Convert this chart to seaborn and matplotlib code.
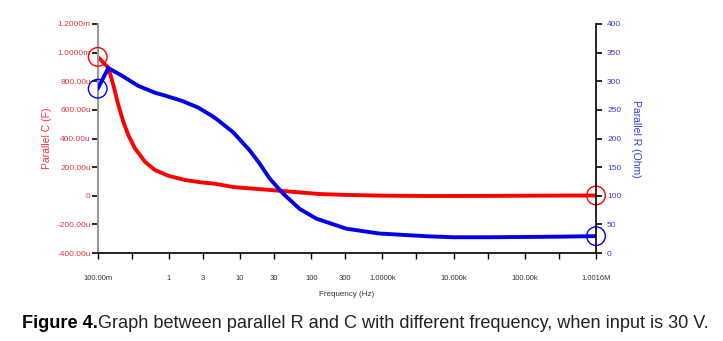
import numpy as np
import pandas as pd
import matplotlib
matplotlib.use("Agg")
import matplotlib.pyplot as plt
import seaborn as sns

# ---- data ----
freq_c = [0.1, 0.141, 0.166, 0.195, 0.229, 0.269, 0.334, 0.461, 0.636, 0.978, 1.68,
          2.88, 4.42, 7.98, 40.1, 131, 300, 910, 4600, 30000, 200000, 1.0016e6]
cap_uF = [970, 895, 774, 634, 517, 424, 331, 238, 180, 140, 110,
          93, 84, 61, 33, 12, 6, 1, -2, -1, 1, 2]

freq_r = [0.1, 0.141, 0.217, 0.371, 0.636, 0.879, 1.51, 2.58, 3.97, 4.67, 7.98, 13.7,
          18.9, 26.1, 40.1, 68.8, 118, 310, 910, 4600, 10000, 30000, 100000, 300000, 1.0016e6]
res_ohm = [287, 323, 310, 292, 280, 275, 266, 254, 240, 234, 211, 179,
           156, 130, 104, 77, 60, 42.5, 34, 29, 27.5, 27.5, 28, 28.5, 29.5]

x_ticks = [0.1, 0.3, 1, 3, 10, 30, 100, 300, 1000, 3000, 10000, 30000, 100000, 300000, 1.0016e6]
x_labels = ["100.00m", "", "1", "3", "10", "30", "100", "300", "1.0000k", "",
            "10.000k", "", "100.00k", "", "1.0016M"]
left_ticks_uF = [-400, -200, 0, 200, 400, 600, 800, 1000, 1200]
left_labels = ["-400.00u", "-200.00u", "0", "200.00u", "400.00u", "600.00u",
               "800.00u", "1.0000m", "1.2000m"]
right_ticks = [0, 50, 100, 150, 200, 250, 300, 350, 400]

df_c = pd.DataFrame({"f": freq_c, "C": np.array(cap_uF) * 1e-6})
df_r = pd.DataFrame({"f": freq_r, "R": res_ohm})

sns.set_style("white")
plt.rcParams["font.family"] = ["Liberation Sans", "DejaVu Sans"]

RED = "#ff0000"
BLUE = "#0000ee"
RED_T = "#e8343c"
BLUE_T = "#3a3ae0"

fig = plt.figure(figsize=(7.23, 3.41), dpi=100)
ax = fig.add_axes([97.7 / 723, 1 - 253 / 341, (596 - 97.7) / 723, (253 - 24) / 341])
ax2 = ax.twinx()

sns.lineplot(data=df_c, x="f", y="C", ax=ax, color=RED, lw=2.8, sort=False, legend=False)
sns.lineplot(data=df_r, x="f", y="R", ax=ax2, color=BLUE, lw=2.8, sort=False, legend=False)
for a in (ax, ax2):
    for ln in a.get_lines():
        ln.set_solid_joinstyle("round")
        ln.set_solid_capstyle("round")

# end-point circles
ends_c = df_c.iloc[[0, -1]]
ends_r = df_r.iloc[[0, -1]]
sns.scatterplot(data=ends_c, x="f", y="C", ax=ax, s=180, facecolor="none",
                edgecolor=RED, linewidth=1.0, zorder=5, clip_on=False, legend=False)
sns.scatterplot(data=ends_r, x="f", y="R", ax=ax2, s=180, facecolor="none",
                edgecolor=BLUE, linewidth=1.0, zorder=5, clip_on=False, legend=False)

ax.set_xscale("log")
ax.set_xlim(0.1, 1.0016e6)
ax.set_ylim(-400e-6, 1200e-6)
ax2.set_ylim(0, 400)

ax.set_xticks(x_ticks)
ax.set_xticklabels(x_labels)
ax.xaxis.set_minor_locator(matplotlib.ticker.NullLocator())
ax.set_yticks(np.array(left_ticks_uF) * 1e-6)
ax.set_yticklabels(left_labels)
ax2.set_yticks(right_ticks)
ax2.set_yticklabels([str(v) for v in right_ticks])

ax.tick_params(axis="x", direction="out", length=4, width=1, color="black",
               labelsize=5.5, pad=12, labelcolor="#333333", bottom=True)
ax.tick_params(axis="y", direction="out", length=4, width=1.2, color="black",
               labelsize=6, pad=1, labelcolor=RED_T, left=True)
ax2.tick_params(axis="y", direction="out", length=4, width=1.2, color="black",
                labelsize=6, pad=4, labelcolor=BLUE_T, right=True)

for a in (ax, ax2):
    a.spines["top"].set_visible(False)
    a.grid(False)
ax.spines["right"].set_visible(False)
ax.spines["left"].set_color("#999999")
ax.spines["left"].set_linewidth(1.5)
ax.spines["bottom"].set_color("black")
ax.spines["bottom"].set_linewidth(1.2)
ax2.spines["left"].set_visible(False)
ax2.spines["bottom"].set_visible(False)
ax2.spines["right"].set_color("black")
ax2.spines["right"].set_linewidth(1.2)

ax.set_xlabel("Frequency (Hz)", fontsize=5.8, color="#333333")
ax.xaxis.set_label_coords(0.5, -0.165)
ax.set_ylabel("Parallel C (F)", fontsize=7.5, color=RED_T)
ax.yaxis.set_label_coords(-0.092, 0.5)
ax2.set_ylabel("Parallel R (Ohm)", fontsize=7.5, color=BLUE_T, rotation=270, va="center")
ax2.yaxis.set_label_coords(1.080, 0.5)

# caption
t1 = fig.text(22 / 723, 1 - 323 / 341, "Figure 4.", fontsize=13.1, fontweight="bold",
              va="center", ha="left", color="black")
fig.canvas.draw()
bb = t1.get_window_extent(renderer=fig.canvas.get_renderer())
fig.text(bb.x1 / fig.bbox.width, 1 - 323 / 341,
         "Graph between parallel R and C with different frequency, when input is 30 V.",
         fontsize=13.1, va="center", ha="left", color="#222222")

fig.savefig("out.png", dpi=100)
